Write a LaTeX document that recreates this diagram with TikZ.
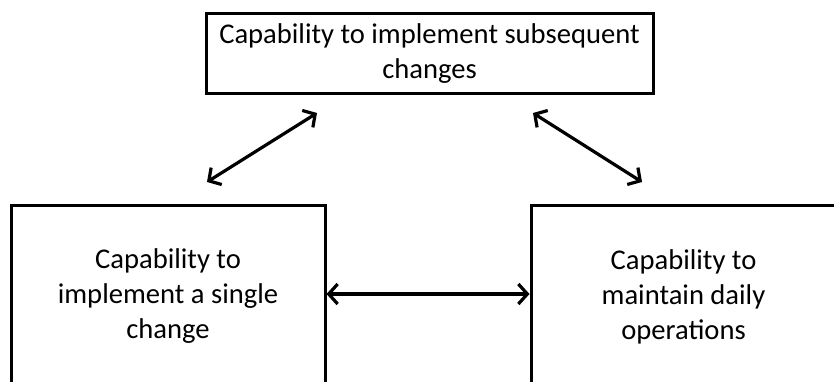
\documentclass[tikz,border=0pt]{standalone}
\usepackage{fontspec}
\setmainfont{Carlito}
\usetikzlibrary{arrows.meta,positioning}
\tikzset{
  capbox/.style={draw,line width=3pt,inner sep=0pt,align=center,
    font=\fontsize{28.6pt}{35pt}\selectfont},
  dblarrow/.style={{Straight Barb[length=9pt,width=20pt]}-{Straight Barb[length=9pt,width=20pt]},line width=3.2pt}
}
\begin{document}
\begin{tikzpicture}[x=1pt,y=-1pt]

  \useasboundingbox (0,0) rectangle (834,382);
  \clip (0,0) rectangle (834,382);

  \node[capbox,minimum width=447pt,minimum height=80pt] (Sub) at (429.5, 53.5)
    {Capability to implement subsequent\\changes};
  \node[capbox,minimum width=314pt,minimum height=182pt] (Single) at (168, 296)
    {Capability to\\implement a single\\change};
  \node[capbox,minimum width=305pt,minimum height=184pt] (Daily) at (683.5, 297)
    {Capability to\\maintain daily\\operations};

  \coordinate (S1) at (207, 182);
  \coordinate (S2) at (317, 113);
  \coordinate (D1) at (533, 113);
  \coordinate (D2) at (642, 182);

  \draw[dblarrow] (S1) -- (S2);
  \draw[dblarrow] (D1) -- (D2);
  \draw[dblarrow] (Single.east |- 0,294) -- (Daily.west |- 0,294);

\end{tikzpicture}
\end{document}
